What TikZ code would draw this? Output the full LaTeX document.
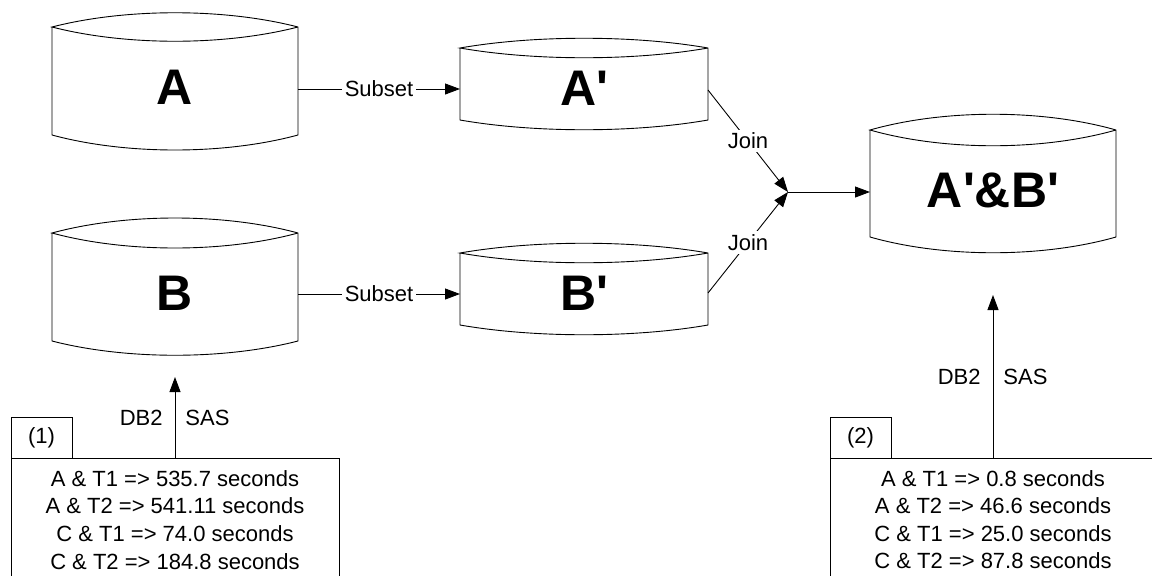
\documentclass[tikz,border=0pt]{standalone}
\usepackage{fontspec}
\setmainfont{Liberation Sans}
\usetikzlibrary{arrows.meta,calc}

\tikzset{
  outline/.style={draw=black, line width=0.9pt},
  store/.style={inner sep=0pt, outer sep=0pt, draw=none},
  big/.style={font=\fontsize{50}{60}\selectfont\bfseries, inner sep=0pt, anchor=base},
  txt/.style={font=\fontsize{22}{26}\selectfont, inner sep=0pt},
  lbl/.style={txt, fill=white, inner sep=3pt},
  line/.style={txt, anchor=base},
  flow/.style={outline, -{Triangle[length=15pt,width=11pt]}},
  panel/.style={outline, inner sep=0pt, outer sep=0pt},
}

% data store outline: #1 node, #2 top bulge, #3 bottom bulge
\newcommand\drawstore[3]{%
  \draw[outline] (#1.north west) -- (#1.south west)
    .. controls ($(#1.south west)!0.3!(#1.south east)+(0pt,-#3)$)
            and ($(#1.south west)!0.7!(#1.south east)+(0pt,-#3)$) .. (#1.south east)
    -- (#1.north east)
    .. controls ($(#1.north west)!0.7!(#1.north east)+(0pt,#2)$)
            and ($(#1.north west)!0.3!(#1.north east)+(0pt,#2)$) .. (#1.north west)
    .. controls ($(#1.north west)!0.3!(#1.north east)+(0pt,-#2)$)
            and ($(#1.north west)!0.7!(#1.north east)+(0pt,-#2)$) .. (#1.north east);
}
\newcommand\pr{\textquotesingle}

\begin{document}
\begin{tikzpicture}[x=1pt, y=-1pt]
  \clip (0,0) rectangle (1152,576);
  \fill[white] (0,0) rectangle (1152,576);

  % data stores
  \node[store, minimum width=246pt, minimum height=108pt] (A)  at (175,81)  {};
  \node[store, minimum width=246pt, minimum height=108pt] (B)  at (175,287) {};
  \node[store, minimum width=248pt, minimum height=72pt]  (Ap) at (584,84)  {};
  \node[store, minimum width=248pt, minimum height=72pt]  (Bp) at (584,289) {};
  \node[store, minimum width=246pt, minimum height=107pt] (AB) at (993,183.5) {};
  \drawstore{A}{19pt}{20pt}
  \drawstore{B}{20pt}{19pt}
  \drawstore{Ap}{13pt}{13pt}
  \drawstore{Bp}{13pt}{13pt}
  \drawstore{AB}{21pt}{21pt}

  \node[big] (tA)  at (175,104) {A};
  \node[big] (tB)  at (175,310) {B};
  \node[big] (tAp) at (584,105) {A\pr};
  \node[big] (tBp) at (584,310) {B\pr};
  \node[big] (tAB) at (993,207) {A\pr\&B\pr};

  % subsets
  \draw[flow] ([yshift=-8pt]A.east) -- ([yshift=-8pt]A.east -| Ap.west)
    node[midway, lbl] (sA) {Subset};
  \draw[flow] ([yshift=-7pt]B.east) -- ([yshift=-7pt]B.east -| Bp.west)
    node[midway, lbl] (sB) {Subset};

  % join
  \coordinate (J) at (788,192);
  \draw[flow] ([yshift=-6pt]Ap.east) -- (J) node[midway, lbl] (jA) {Join};
  \draw[flow] ([yshift=-4pt]Bp.east) -- (J) node[midway, lbl] (jB) {Join};
  \draw[flow] (J) -- (J -| AB.west);

  % timing panels
  \node[panel, minimum width=328pt, minimum height=160pt, anchor=north] (P1) at (175,458) {};
  \node[panel, minimum width=61pt, minimum height=41pt, anchor=south west, txt] (T1) at (11,458) {(1)};
  \node[panel, minimum width=326pt, minimum height=160pt, anchor=north] (P2) at (993,458) {};
  \node[panel, minimum width=61pt, minimum height=41pt, anchor=south west, txt] (T2) at (830,458) {(2)};

  \draw[flow] (P1.north) -- ([yshift=-36pt]B.south)
    node[midway, txt, left=12pt] (d1) {DB2}
    node[midway, txt, right=10pt] (s1) {SAS};
  \draw[flow] (P2.north) -- ([yshift=-58pt]AB.south)
    node[midway, txt, left=12pt] (d2) {DB2}
    node[midway, txt, right=10pt] (s2) {SAS};

  \node[line] (r11) at (175,486) {A \& T1 => 535.7 seconds};
  \node[line] (r12) at (175,513) {A \& T2 => 541.11 seconds};
  \node[line] (r13) at (175,541) {C \& T1 => 74.0 seconds};
  \node[line] (r14) at (175,569) {C \& T2 => 184.8 seconds};

  \node[line] (r21) at (993,486) {A \& T1 => 0.8 seconds};
  \node[line] (r22) at (993,513) {A \& T2 => 46.6 seconds};
  \node[line] (r23) at (993,541) {C \& T1 => 25.0 seconds};
  \node[line] (r24) at (993,568) {C \& T2 => 87.8 seconds};
\end{tikzpicture}
\end{document}
